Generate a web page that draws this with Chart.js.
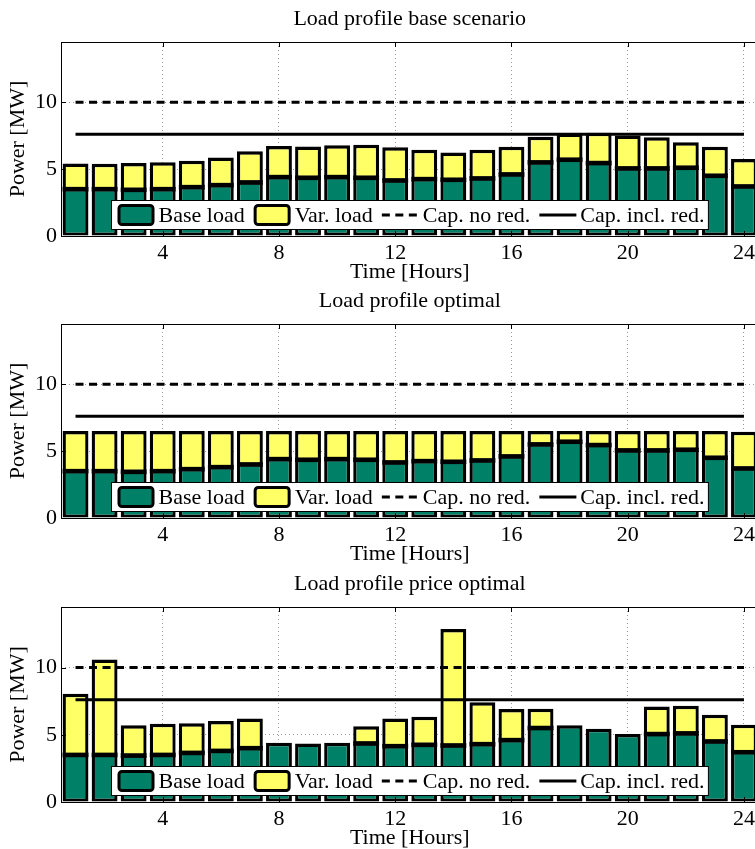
<!DOCTYPE html>
<html lang="en">
<head>
<meta charset="UTF-8" />
<title>Load profiles</title>
<style>
  html, body { margin: 0; padding: 0; overflow: hidden; background: #fff; }
  .panel { position: absolute; left: 0; }
</style>
<script src="https://cdn.jsdelivr.net/npm/chart.js@4.4.0/dist/chart.umd.min.js"></script>
</head>
<body>
<div class="panel" style="top: 0px"><canvas id="c1" width="760" height="283"></canvas></div>
<div class="panel" style="top: 282px"><canvas id="c2" width="760" height="283"></canvas></div>
<div class="panel" style="top: 565px"><canvas id="c3" width="760" height="284"></canvas></div>
<script>
// data (MW per hour)
const hours = [1, 2, 3, 4, 5, 6, 7, 8, 9, 10, 11, 12, 13, 14, 15, 16, 17, 18, 19, 20, 21, 22, 23, 24];
const xTicks = [4, 8, 12, 16, 20, 24];
const yTicks = [0, 5, 10];

const baseLoad = [3.5, 3.5, 3.45, 3.5, 3.65, 3.8, 4.0, 4.4, 4.35, 4.4, 4.35, 4.15,
                  4.25, 4.2, 4.3, 4.6, 5.5, 5.7, 5.45, 5.05, 5.05, 5.1, 4.5, 3.7];
const varBase = [1.92, 1.9, 2.0, 2.02, 1.97, 2.07, 2.34, 2.32, 2.34, 2.39, 2.47, 2.49,
                 2.19, 2.04, 2.14, 2.07, 1.91, 1.96, 2.26, 2.46, 2.34, 1.91, 2.17, 2.05];
const varOptimal = [3.0, 3.0, 3.05, 3.0, 2.85, 2.7, 2.5, 2.1, 2.15, 2.1, 2.15, 2.35,
                    2.25, 2.3, 2.2, 1.9, 1.0, 0.8, 1.05, 1.45, 1.45, 1.4, 2.0, 2.75];
const varPrice = [4.55, 7.1, 2.26, 2.31, 2.21, 2.23, 2.21, 0, 0, 0, 1.29, 2.06,
                  2.08, 8.67, 3.11, 2.31, 1.43, 0, 0, 0, 2.06, 2.06, 1.98, 2.04];

const capNoRed = 10;
const capInclRed = 7.6;

const titles = ["Load profile base scenario", "Load profile optimal", "Load profile price optimal"];

const green = "#008066";
const yellow = "#ffff66";
const gridGray = "#9a9a9a";
const fontFamily = '"Liberation Serif", "Times New Roman", serif';
const capDash = [8, 5.5];

Chart.defaults.font.family = fontFamily;
Chart.defaults.font.size = 22;
Chart.defaults.color = "#000";

// box, inward ticks, stack dividers and the legend inside the plot
const framePlugin = {
  id: "frame",
  afterDatasetDraw(chart, args) {
    // thick black edge between base and var segments (avoids the AA seam)
    if (args.index !== 0) return;
    const { ctx } = chart;
    const base = chart.getDatasetMeta(0).data;
    const vals = chart.data.datasets[1].data;
    ctx.save();
    ctx.fillStyle = "#000";
    base.forEach((el, i) => {
      if (!(vals[i] > 0)) return;
      ctx.fillRect(el.x - el.width / 2, el.y - 2.3, el.width, 4.6);
    });
    ctx.restore();
  },
  afterDatasetsDraw(chart) {
    const { ctx, chartArea: a, scales } = chart;
    ctx.save();
    ctx.strokeStyle = "#000";
    ctx.lineWidth = 1;
    ctx.strokeRect(a.left + 0.5, a.top + 0.5, a.right - a.left, a.bottom - a.top);

    ctx.beginPath();
    xTicks.forEach((h) => {
      const x = Math.round(scales.x.getPixelForValue(hours.indexOf(h))) + 0.5;
      ctx.moveTo(x, a.bottom); ctx.lineTo(x, a.bottom - 5);
      ctx.moveTo(x, a.top); ctx.lineTo(x, a.top + 5);
    });
    yTicks.forEach((v) => {
      const y = Math.round(scales.y.getPixelForValue(v)) + 0.5;
      ctx.moveTo(a.left, y); ctx.lineTo(a.left + 5, y);
    });
    ctx.stroke();

    // legend
    const ds = chart.data.datasets;
    ctx.font = "22px " + fontFamily;
    const sw = 37, gapS = 4, gapT = 9, padL = 6, padR = 4, h = 29;
    const items = ds.map((d) => ({ d, w: ctx.measureText(d.label).width }));
    let total = padL + padR + gapT * (items.length - 1);
    items.forEach((it) => (total += sw + gapS + it.w));
    const bx = Math.round((a.left + a.right) / 2 - total / 2) + 0.5;
    const by = Math.round(a.bottom - 7 - h) + 0.5;
    ctx.fillStyle = "#fff";
    ctx.fillRect(bx, by, total, h);
    ctx.strokeStyle = "#000";
    ctx.lineWidth = 1;
    ctx.strokeRect(bx, by, total, h);

    const cy = by + h / 2;
    let x = bx + padL;
    items.forEach((it) => {
      const d = it.d;
      if (d.type === "bar") {
        ctx.beginPath();
        ctx.roundRect(x + 1.5, cy - 9.5, sw - 3, 19, 3);
        ctx.fillStyle = d.backgroundColor;
        ctx.fill();
        ctx.lineWidth = 3;
        ctx.strokeStyle = "#000";
        ctx.stroke();
      } else {
        ctx.beginPath();
        ctx.setLineDash(d.borderDash || []);
        ctx.lineWidth = 3;
        ctx.strokeStyle = "#000";
        ctx.moveTo(x, cy);
        ctx.lineTo(x + sw, cy);
        ctx.stroke();
        ctx.setLineDash([]);
      }
      x += sw + gapS;
      ctx.fillStyle = "#000";
      ctx.textBaseline = "middle";
      ctx.textAlign = "left";
      ctx.fillText(d.label, x, cy + 1);
      x += it.w + gapT;
    });
    ctx.restore();
  },
};

function barBorder(varLoad, isBase) {
  return (c) => {
    const hasVar = varLoad[c.dataIndex] > 0;
    return isBase
      ? { top: hasVar ? 2 : 3.5, right: 3.3, bottom: 3, left: 3.3 }
      : { top: 3.5, right: 3.3, bottom: 2, left: 3.3 };
  };
}

function makeChart(id, title, varLoad) {
  const ctx = document.getElementById(id).getContext("2d");
  return new Chart(ctx, {
    type: "bar",
    data: {
      labels: hours,
      datasets: [
        {
          type: "bar",
          label: "Base load",
          data: baseLoad,
          backgroundColor: green,
          borderColor: "#000",
          borderWidth: barBorder(varLoad, true),
          borderSkipped: false,
          barPercentage: 0.89,
          categoryPercentage: 1,
          stack: "load",
          order: 1,
        },
        {
          type: "bar",
          label: "Var. load",
          data: varLoad,
          backgroundColor: yellow,
          borderColor: "#000",
          borderWidth: barBorder(varLoad, false),
          borderSkipped: false,
          barPercentage: 0.89,
          categoryPercentage: 1,
          stack: "load",
          order: 1,
        },
        {
          type: "line",
          label: "Cap. no red.",
          data: [
            { x: hours[0], y: capNoRed },
            { x: hours[hours.length - 1], y: capNoRed },
          ],
          borderColor: "#000",
          borderWidth: 3,
          borderDash: capDash,
          pointRadius: 0,
          fill: false,
          stack: "capA",
          order: 0,
        },
        {
          type: "line",
          label: "Cap. incl. red.",
          data: [
            { x: hours[0], y: capInclRed },
            { x: hours[hours.length - 1], y: capInclRed },
          ],
          borderColor: "#000",
          borderWidth: 3,
          pointRadius: 0,
          fill: false,
          stack: "capB",
          order: 0,
        },
      ],
    },
    options: {
      responsive: false,
      animation: false,
      events: [],
      layout: { padding: { left: 0, right: 1.5, top: 0, bottom: 0 } },
      plugins: {
        legend: { display: false },
        tooltip: { enabled: false },
        title: {
          display: true,
          fullSize: false,
          text: title,
          color: "#000",
          font: { size: 22, weight: "normal" },
          padding: { top: 6, bottom: 9.6 },
        },
      },
      scales: {
        x: {
          stacked: true,
          offset: true,
          grid: {
            offset: false,
            drawTicks: false,
            lineWidth: 1,
            color: (c) => (xTicks.includes(hours[c.index]) ? gridGray : "rgba(0,0,0,0)"),
          },
          border: { display: false, dash: [1, 3] },
          ticks: {
            autoSkip: false,
            maxRotation: 0,
            padding: 4,
            callback: (value, index) => (xTicks.includes(hours[index]) ? String(hours[index]) : ""),
          },
          title: {
            display: true,
            text: "Time [Hours]",
            font: { size: 22, lineHeight: 1 },
            padding: { top: 0, bottom: 0 },
          },
          afterFit: (s) => { s.height = 47; },
        },
        y: {
          stacked: true,
          min: 0,
          max: 14.5,
          grid: {
            drawTicks: false,
            lineWidth: 1,
            color: (c) => (c.tick && (c.tick.value === 5 || c.tick.value === 10) ? gridGray : "rgba(0,0,0,0)"),
          },
          border: { display: false, dash: [1, 3] },
          ticks: {
            stepSize: 5,
            includeBounds: false,
            padding: 4,
          },
          title: {
            display: true,
            text: "Power [MW]",
            font: { size: 22 },
            padding: { top: 5, bottom: 0 },
          },
          afterFit: (s) => { s.width = 61; },
        },
      },
    },
    plugins: [framePlugin],
  });
}

makeChart("c1", titles[0], varBase);
makeChart("c2", titles[1], varOptimal);
makeChart("c3", titles[2], varPrice);
</script>
</body>
</html>
